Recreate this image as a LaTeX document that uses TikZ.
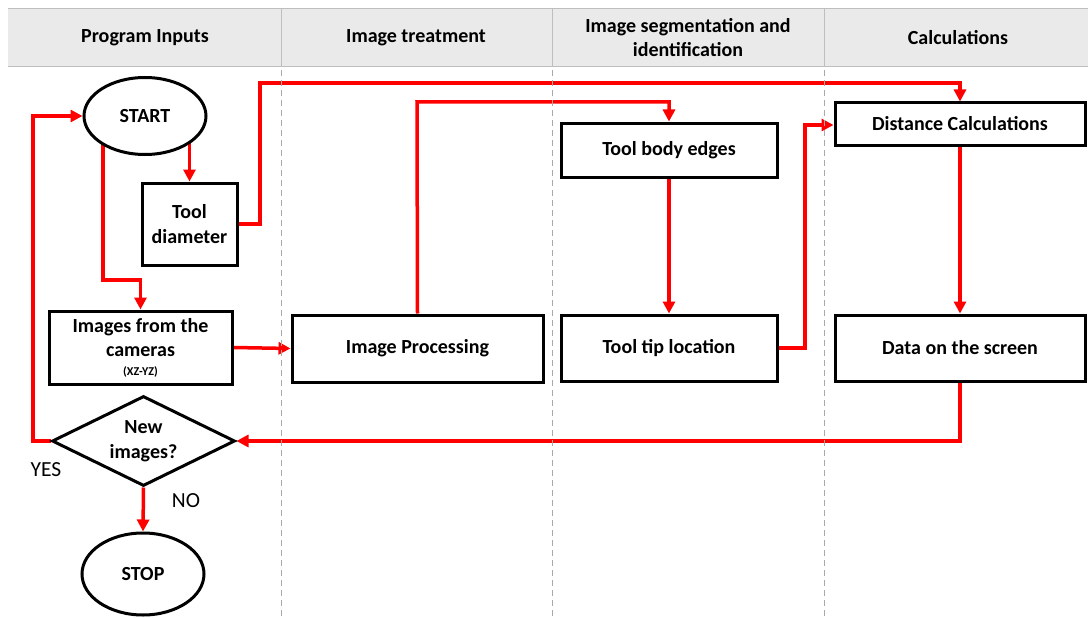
\documentclass[tikz,border=0pt]{standalone}
\usepackage{fontspec}
\setmainfont{Carlito}
\usetikzlibrary{shapes.geometric,arrows.meta}
\pgfdeclarelayer{bg}
\pgfsetlayers{bg,main}
\definecolor{hdrfill}{RGB}{234,234,234}
\definecolor{hdrline}{RGB}{190,190,190}
\definecolor{lanedash}{RGB}{170,170,170}
\definecolor{flowred}{RGB}{255,0,0}
\tikzset{
  box/.style={draw=black, line width=3pt, fill=white, inner sep=0pt, font=\fontsize{20}{24.5}\selectfont\bfseries, align=center},
  oval/.style={ellipse, draw=black, line width=3pt, fill=white, inner sep=0pt, font=\fontsize{20}{24}\selectfont\bfseries},
  dec/.style={diamond, draw=black, line width=3pt, fill=white, inner sep=0pt, aspect=2, font=\fontsize{20}{24.5}\selectfont\bfseries, align=center},
  hdr/.style={font=\fontsize{20}{24}\selectfont\bfseries, align=center, text=black},
  arr/.style={draw=flowred, line width=3.5pt, -{Triangle[length=12pt,width=12pt]}},
  lbl/.style={font=\fontsize{21.5}{24}\selectfont, text=black}
}
\begin{document}
\begin{tikzpicture}[x=1pt,y=-1pt]
\useasboundingbox (0,0) rectangle (1088,618);
% header
\fill[hdrfill] (8,9) rectangle (1088,67);
\draw[hdrline, line width=1pt] (8,9) -- (1088,9);
\draw[hdrline, line width=1pt] (8,67) -- (1088,67);
\foreach \x in {281,552,824} {
  \draw[hdrline, line width=1pt] (\x,9) -- (\x,67);
  \draw[lanedash, line width=1pt, dash pattern=on 6pt off 4pt] (\x,70) -- (\x,618);
}
\node[hdr] (h1) at (145,38) {Program Inputs};
\node[hdr] (h2) at (416,38) {Image treatment};
\node[hdr] (h3) at (688,38) {Image segmentation and\\identification};
\node[hdr] (h4) at (958,38) {Calculations};

% nodes
\node[oval, minimum width=122pt, minimum height=77pt] (start) at (145,116) {START};
\node[box, minimum width=95pt, minimum height=82pt] (tooldia) at (189.5,224) {Tool\\diameter};
\node[box, minimum width=183pt, minimum height=73pt] (cams) at (140.5,347.5) {Images from the\\cameras\\[-6pt]{\fontsize{12}{13}\selectfont (XZ-YZ)}};
\node[dec, minimum width=183pt, minimum height=90pt] (newimg) at (143.5,441) {New\\images?};
\node[oval, minimum width=122pt, minimum height=82pt] (stop) at (143,574) {STOP};
\node[box, minimum width=251pt, minimum height=67pt] (improc) at (417.5,348.5) {Image Processing};
\node[box, minimum width=216pt, minimum height=54pt] (body) at (669,150) {Tool body edges};
\node[box, minimum width=216pt, minimum height=66pt] (tip) at (669,348) {Tool tip location};
\node[box, minimum width=250pt, minimum height=42pt] (dist) at (960,124) {Distance Calculations};
\node[box, minimum width=250pt, minimum height=66pt] (data) at (960,348) {Data on the screen};

\node[lbl] (yes) at (46,470) {YES};
\node[lbl] (no) at (186,501) {NO};

% connectors
\begin{pgfonlayer}{bg}
\coordinate (c1) at (103,280);
\coordinate (c2) at (260,83);
\coordinate (c3) at (417,102);
\coordinate (c4) at (805,125);
\coordinate (c5) at (33,441);
\draw[arr] (tooldia.north |- start.center) -- (tooldia.north);
\draw[arr] (c1 |- start.center) -- (c1) -| (cams.north);
\draw[arr] (tooldia.east) -| (c2) -| (dist.north);
\draw[arr] (cams.east) -- (improc.west);
\draw[arr] (improc.north) -- (c3) -| (body.north);
\draw[arr] (body.south) -- (tip.north);
\draw[arr] (tip.east) -| (c4) -- (c4 -| dist.west);
\draw[arr] (dist.south) -- (data.north);
\draw[arr] (data.south) |- (newimg.east);
\draw[arr] (newimg.west) -- (c5) |- (start.west);
\draw[arr] (newimg.south) -- (stop.north);
\end{pgfonlayer}
\end{tikzpicture}
\end{document}
